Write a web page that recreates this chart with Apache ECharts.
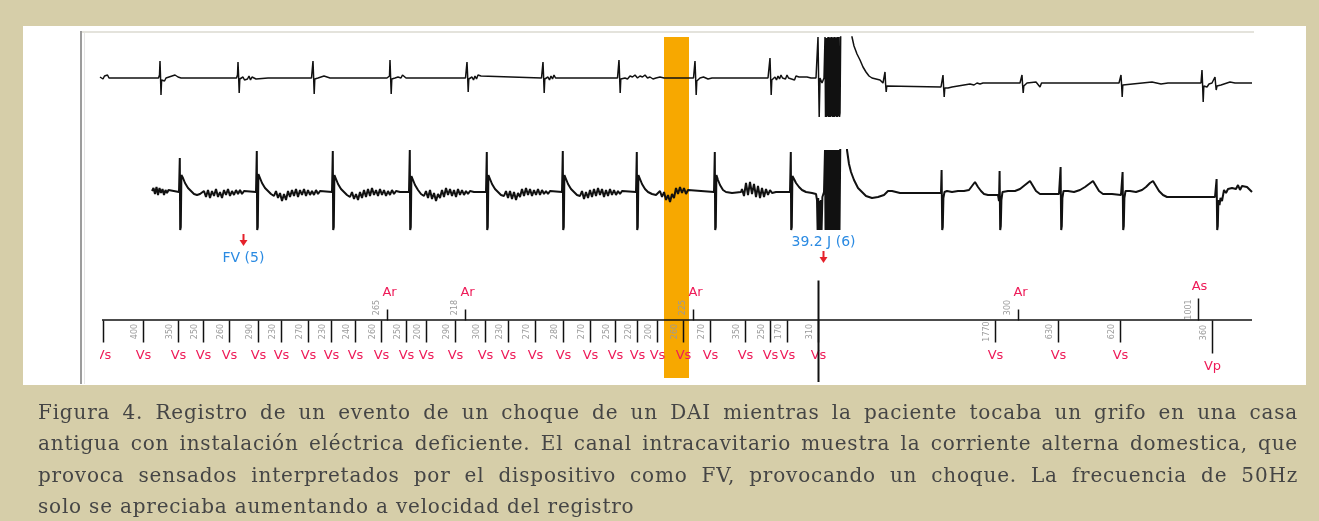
<!DOCTYPE html>
<html><head><meta charset="utf-8">
<script src="https://cdn.jsdelivr.net/npm/echarts/dist/echarts.min.js"></script>
<style>
html,body{margin:0;padding:0;background:#d6cea9;width:1319px;height:521px;overflow:hidden;}
#panel{position:absolute;left:23px;top:26px;width:1283px;height:359px;background:#fff;}
#chart{position:absolute;left:0;top:0;width:1319px;height:521px;}
#caption{position:absolute;left:38px;top:397px;width:1260px;font-family:'DejaVu Serif',serif;font-size:20px;letter-spacing:0.8px;line-height:31.4px;color:#454545;}
#caption div{white-space:nowrap;text-align:justify;text-align-last:justify;}
#caption div.last{text-align-last:left;}
</style></head>
<body>
<div id="panel"></div>
<div id="chart"></div>
<div id="caption">
<div>Figura 4. Registro de un evento de un choque de un DAI mientras la paciente tocaba un grifo en una casa</div>
<div>antigua con instalación eléctrica deficiente. El canal intracavitario muestra la corriente alterna domestica, que</div>
<div>provoca sensados interpretados por el dispositivo como FV, provocando un choque. La frecuencia de 50Hz</div>
<div class="last">solo se apreciaba aumentando a velocidad del registro</div>
</div>
<script>
// ---- data (time in ms, amplitude in mV-like units) ----
const topTrace = [
 [180,0.1],[195,0.3],[210,-0.1],[225,0.2],[240,0.1],[255,0.3],[270,0],[290,0.1],[320,0],
 [765,0],[775,0.3],[780,1.7],[785,0.2],[790,-1.7],[796,-0.2],[810,-0.1],[825,-0.3],[840,0],[855,-0.2],[870,0.1],[885,-0.1],[900,0.2],[915,0],[930,0.3],[945,0.4],[960,0.1],[975,0.2],[990,0],[1010,0.1],[1030,0],
 [1545,0],[1555,0.3],[1560,1.6],[1566,0.2],[1572,-1.5],[1578,-0.1],[1595,-0.2],[1610,0.1],[1625,-0.2],[1640,0],[1655,-0.1],[1670,0.2],[1685,-0.2],[1700,0.1],[1720,0],[1740,-0.1],[1760,0],[1860,0],[1880,0.2],[1895,0],
 [2295,0],[2305,0.2],[2310,1.7],[2316,0.1],[2322,-1.6],[2328,-0.1],[2345,-0.2],[2360,0],[2375,-0.2],[2390,0.1],[2405,-0.1],[2420,0.2],[2435,0.3],[2450,0.1],[2465,0.2],[2480,0],[2500,0],
 [3050,0],[3060,0.1],[3070,0],[3075,0.2],[3080,1.8],[3086,0.1],[3092,-1.6],[3098,-0.1],[3115,-0.3],[3130,0],[3145,-0.2],[3160,0.1],[3175,0.2],[3190,0],[3205,0.3],[3220,0.1],[3240,0],
 [3835,0],[3845,0.2],[3850,1.6],[3856,0.3],[3862,-1.4],[3868,-0.1],[3885,-0.2],[3900,0.1],[3915,-0.2],[3930,0.2],[3945,-0.1],[3960,0.3],[3975,0.1],[3990,0.2],[4010,0],
 [4595,0],[4605,0.2],[4610,1.6],[4616,0.1],[4622,-1.5],[4628,-0.1],[4645,-0.3],[4660,0.1],[4675,-0.2],[4690,0.2],[4705,-0.1],[4720,0.3],[4735,0],[4750,0.2],[4770,0],
 [5355,0],[5365,0.1],[5370,1.8],[5376,0.1],[5382,-1.5],[5388,-0.1],[5405,-0.2],[5430,0],[5455,-0.1],[5480,0.2],[5505,0.1],[5530,0.3],[5555,0],[5580,0.2],[5605,0.1],[5630,0.3],[5655,0],[5680,0.1],[5710,-0.1],[5740,0],[5780,0.1],[5820,0],
 [6115,0],[6125,0.1],[6130,1.7],[6136,0.1],[6142,-1.7],[6148,-0.3],[6165,-0.2],[6180,0],[6195,-0.1],[6215,0.1],[6235,0],[6260,-0.1],[6300,0],
 [6860,0],[6870,0.1],[6880,2.0],[6886,0.1],[6892,-1.7],[6898,-0.2],[6915,-0.3],[6930,0.1],[6945,-0.2],[6960,0.2],[6975,-0.1],[6990,0.3],[7005,0],[7020,0.2],[7035,-0.1],[7050,0.3],[7065,0],[7080,0.2],[7095,-0.1],[7110,0.1],[7125,-0.2],[7140,0.2],[7155,0],[7170,0.1],[7190,0],[7250,0.1],[7290,0],[7340,0],
 [7355,0.2],[7360,4.1],[7366,0],[7372,-3.9],[7380,0],[7400,-0.5],[7420,0],
 [7430,4.1],[7435,-3.9],[7440,4.0],[7445,-3.9],[7450,4.0],[7455,-3.8],[7460,4.1],[7465,-3.9],[7470,4.1],[7475,-3.9],[7480,4.0],[7485,-3.9],[7490,4.1],[7495,-3.8],[7500,4.1],[7505,-3.9],[7510,4.0],[7515,-3.9],[7520,4.1],[7525,-3.9],[7530,4.1],[7535,-3.8],[7540,4.0],[7545,-3.9],[7550,4.1],[7555,-3.9],[7560,4.1],[7565,-3.8],[7570,4.1],[7575,-3.9],[7580,-3.5],[7590,8],[7690,8],
 [7700,4.1],[7720,3.2],[7750,2.4],[7780,1.8],[7810,1.1],[7840,0.6],[7870,0.2],[7900,0],[7940,-0.1],[7980,-0.2],[8010,-0.5],
 [8025,-0.6],[8030,0.6],[8036,-0.6],[8042,-1.4],[8048,-0.8],[8060,-0.9],[8590,-0.9],
 [8600,-0.7],[8610,0.3],[8616,-0.9],[8622,-1.9],[8628,-1.0],[8640,-0.8],[8660,-1.0],[8700,-0.9],[8760,-0.8],[8820,-0.7],[8880,-0.6],[8920,-0.7],[8950,-0.5],[8980,-0.6],[9010,-0.5],[9200,-0.5],
 [9380,-0.5],[9390,-0.3],[9400,0.3],[9406,-0.7],[9412,-1.5],[9418,-0.8],[9430,-0.6],[9450,-0.5],[9540,-0.4],[9560,-0.6],[9580,-0.9],[9595,-0.5],[9610,-0.5],[10370,-0.5],
 [10380,-0.3],[10390,0.3],[10396,-0.7],[10402,-1.9],[10408,-0.7],[10420,-0.5],[10700,-0.4],[10790,-0.6],[10860,-0.5],[11190,-0.5],
 [11200,0.8],[11206,-0.7],[11212,-2.4],[11218,-0.8],[11230,-0.6],[11250,-0.9],[11270,-0.6],[11300,-0.5],[11320,-0.6],[11330,0.1],[11336,-0.6],[11342,-1.2],[11350,-0.8],[11370,-1.0],[11390,-0.7],[11410,-0.5],[11480,-0.4],[11530,-0.5],[11700,-0.5]
];

const bottomTrace = [
 [700,0.1],[715,0.4],[730,-0.2],[745,0.5],[760,-0.3],[775,0.4],[790,-0.1],[805,0.3],[820,-0.3],[835,0.2],[850,-0.1],[865,0.2],[880,0],[970,0],
 [978,3.4],[982,-3.8],[988,-3.5],[994,1.7],[1010,1.4],[1030,0.9],[1060,0.4],[1090,0.1],[1120,-0.2],[1150,-0.3],[1180,-0.2],[1200,-0.4],
 [1220,0.1],[1240,-0.5],[1260,0.2],[1280,-0.6],[1300,0.1],[1320,-0.4],[1340,0.3],[1360,-0.5],[1380,0],[1400,-0.6],[1420,0.2],[1440,-0.3],[1460,0.3],[1480,-0.4],[1500,0.1],[1520,-0.3],[1540,0.2],[1560,-0.2],[1580,0.2],[1600,-0.2],[1620,0.1],[1640,0],[1740,0],
 [1748,4.1],[1752,-3.8],[1758,-3.5],[1764,1.8],[1780,1.4],[1800,0.9],[1830,0.4],[1860,0.1],[1890,-0.2],[1920,-0.4],
 [1940,0.1],[1960,-0.6],[1980,-0.1],[2000,-0.9],[2020,-0.2],[2040,-0.8],[2060,0.1],[2080,-0.5],[2100,0.2],[2120,-0.4],[2140,0.3],[2160,-0.5],[2180,0.2],[2200,-0.3],[2220,0.3],[2240,-0.4],[2260,0.2],[2280,-0.3],[2300,0.1],[2320,-0.3],[2340,0.2],[2360,-0.2],[2380,0.1],[2400,0],[2500,0],
 [2508,4.1],[2512,-3.8],[2518,-3.5],[2524,1.7],[2540,1.3],[2560,0.8],[2590,0.3],[2620,0],[2650,-0.3],[2680,-0.5],
 [2700,0],[2720,-0.7],[2740,-0.2],[2760,-0.8],[2780,0],[2800,-0.6],[2820,0.2],[2840,-0.5],[2860,0.3],[2880,-0.4],[2900,0.4],[2920,-0.3],[2940,0.2],[2960,-0.4],[2980,0.3],[3000,-0.3],[3020,0.2],[3040,-0.4],[3060,0.1],[3080,-0.3],[3100,0.2],[3120,-0.2],[3140,0.1],[3160,-0.1],[3180,0],[3270,0],
 [3278,4.2],[3282,-3.8],[3288,-3.5],[3294,1.6],[3310,1.2],[3330,0.7],[3360,0.2],[3390,-0.2],[3420,-0.4],
 [3440,0.1],[3460,-0.6],[3480,0.2],[3500,-0.7],[3520,-0.1],[3540,-0.9],[3560,-0.2],[3580,-0.6],[3600,0.2],[3620,-0.5],[3640,0.4],[3660,-0.3],[3680,0.3],[3700,-0.4],[3720,0.2],[3740,-0.5],[3760,0.3],[3780,-0.3],[3800,0.2],[3820,-0.3],[3840,0.1],[3860,-0.2],[3880,0.1],[3900,-0.1],[3920,0],[4040,0],
 [4048,4.0],[4052,-3.8],[4058,-3.5],[4064,1.7],[4080,1.3],[4100,0.8],[4130,0.3],[4160,0],[4190,-0.3],[4220,-0.4],
 [4240,0.1],[4260,-0.6],[4280,0.1],[4300,-0.7],[4320,0],[4340,-0.8],[4360,-0.1],[4380,-0.5],[4400,0.3],[4420,-0.4],[4440,0.4],[4460,-0.3],[4480,0.3],[4500,-0.4],[4520,0.2],[4540,-0.3],[4560,0.3],[4580,-0.3],[4600,0.2],[4620,-0.2],[4640,0.1],[4660,-0.2],[4680,0.1],[4700,0],[4800,0],
 [4808,4.1],[4812,-3.8],[4818,-3.5],[4824,1.7],[4840,1.3],[4860,0.8],[4890,0.3],[4920,0],[4950,-0.3],[4980,-0.4],
 [5000,0.1],[5020,-0.7],[5040,0],[5060,-0.6],[5080,0.2],[5100,-0.5],[5120,0.3],[5140,-0.4],[5160,0.4],[5180,-0.3],[5200,0.3],[5220,-0.5],[5240,0.2],[5260,-0.4],[5280,0.3],[5300,-0.3],[5320,0.2],[5340,-0.3],[5360,0.1],[5380,-0.2],[5400,0.1],[5420,0],[5540,0],
 [5548,4.0],[5552,-3.8],[5558,-3.5],[5564,1.7],[5580,1.3],[5600,0.8],[5630,0.3],[5660,0],[5700,-0.2],[5740,-0.3],
 [5780,0.1],[5800,-0.5],[5820,0],[5840,-0.8],[5860,-0.3],[5880,-1.0],[5900,-0.2],[5920,-0.6],[5940,0.4],[5960,-0.2],[5980,0.5],[6000,-0.1],[6020,0.4],[6040,-0.2],[6060,0.2],[6080,0],[6320,0],
 [6328,4.0],[6332,-3.8],[6338,-3.5],[6344,1.7],[6360,1.2],[6380,0.7],[6410,0.2],[6440,0],[6500,-0.1],[6590,0],
 [6600,0.3],[6620,-0.4],[6640,0.9],[6660,-0.3],[6680,1.0],[6700,-0.2],[6720,0.8],[6740,-0.5],[6760,0.6],[6780,-0.6],[6800,0.4],[6820,-0.5],[6840,0.3],[6860,-0.3],[6880,0.2],[6900,-0.1],[6940,0],[7080,0],
 [7088,4.0],[7092,-3.8],[7098,-3.5],[7104,1.6],[7120,1.3],[7140,0.9],[7170,0.5],[7200,0.2],[7240,0],[7300,-0.1],[7340,-0.2],
 [7350,-0.8],[7356,-3.8],[7362,-0.6],[7368,-3.8],[7374,-0.9],[7380,-3.8],[7388,-0.8],[7396,-3.8],[7404,-0.5],[7420,0],
 [7430,4.2],[7435,-3.8],[7440,4.2],[7445,-3.8],[7450,4.2],[7455,-3.8],[7460,4.2],[7465,-3.8],[7470,4.2],[7475,-3.8],[7480,4.2],[7485,-3.8],[7490,4.2],[7495,-3.8],[7500,4.2],[7505,-3.8],[7510,4.2],[7515,-3.8],[7520,4.2],[7525,-3.8],[7530,4.2],[7535,-3.8],[7540,4.2],[7545,-3.8],[7550,4.2],[7555,-3.8],[7560,4.2],[7565,-3.8],[7570,4.2],[7575,-3.8],[7580,-3.8],[7586,8],[7640,8],
 [7650,4.2],[7670,2.8],[7690,2.0],[7720,1.2],[7760,0.4],[7800,0],[7840,-0.4],[7900,-0.6],[7960,-0.5],[8020,-0.3],[8060,0.1],[8080,-0.1],[8100,0.1],[8120,-0.1],[8180,-0.1],[8590,-0.1],
 [8596,2.2],[8602,-3.8],[8608,-3.5],[8614,-0.6],[8625,0],[8650,0.1],[8700,0],[8760,0.1],[8820,0.1],[8870,0.2],[8900,0.6],[8930,1.0],[8960,0.5],[8990,0.1],[9020,-0.2],[9060,-0.3],[9160,-0.3],
 [9170,-0.9],[9176,2.1],[9182,-3.8],[9188,-3.4],[9194,-0.8],[9205,0],[9260,0.1],[9330,0.1],[9380,0.3],[9430,0.7],[9480,1.1],[9510,0.6],[9540,0.1],[9580,-0.2],[9700,-0.2],[9770,-0.2],
 [9780,-0.1],[9786,2.5],[9792,-3.8],[9798,-3.4],[9804,-0.6],[9815,0.1],[9860,0.1],[9920,0],[9980,0.2],[10030,0.5],[10070,0.8],[10110,1.1],[10140,0.6],[10170,0.1],[10210,-0.2],[10300,-0.2],[10390,-0.3],
 [10400,-0.2],[10406,2.0],[10412,-3.8],[10418,-3.4],[10424,-0.6],[10435,0.1],[10480,0.1],[10540,0],[10600,0.2],[10640,0.5],[10680,0.9],[10710,1.1],[10740,0.6],[10770,0.1],[10810,-0.3],[10850,-0.5],[11330,-0.5],
 [11340,-0.5],[11346,1.3],[11352,-3.8],[11358,-3.4],[11364,-0.8],[11375,-1.3],[11385,-0.6],[11400,-0.9],[11420,0.2],[11440,-0.1],[11460,0.3],[11480,0.1],[11500,0.4],[11520,0.5],[11540,0.3],[11560,0.7],[11580,0.2],[11600,0.6],[11620,0.4],[11650,0.5],[11700,0.0]
];

// marker channel events (ms)
const vsTimes = [210,610,960,1210,1470,1760,1990,2260,2490,2730,2990,3240,3440,3730,4030,4260,4530,4810,5080,5330,5550,5750,6010,6280,6630,6880,7050,7360,9130,9760,10380];
const vsIntervals = ['','400','350','250','260','290','230','270','230','240','260','250','200','290','300','230','270','280','270','250','220','200','260','270','350','250','170','310','1770','630','620'];
const arTimes = [3050,3830,6110,9360];
const arIntervals = ['265','218','225','300'];
const asTimes = [11160];
const asIntervals = ['1001'];
const vpTimes = [11300];
const vpIntervals = ['360'];
const shockTimes = [7360];
const annotTimes = [1610, 7410];
const annotTexts = ['FV (5)', '39.2 J (6)'];
const annotPlaces = ['below', 'above'];
const markerSpan = [200, 11700];
const bandRange = [5820, 6070];

// ---- build ----
const markers = [];
vsTimes.forEach((t,i)=>markers.push({t, kind:'Vs', num:vsIntervals[i]}));
arTimes.forEach((t,i)=>markers.push({t, kind:'Ar', num:arIntervals[i]}));
asTimes.forEach((t,i)=>markers.push({t, kind:'As', num:asIntervals[i]}));
vpTimes.forEach((t,i)=>markers.push({t, kind:'Vp', num:vpIntervals[i]}));
shockTimes.forEach(t=>markers.push({t, kind:'shock', num:''}));

const MS = {
  Vs:{tick:22, ndx:-9, ndy:11, ldx:0, ldy:35},
  Vp:{tick:33, ndx:-9, ndy:12, ldx:0, ldy:46},
  Ar:{tick:-11, ndx:-11, ndy:-13, ldx:2, ldy:-28},
  As:{tick:-22, ndx:-10, ndy:-11, ldx:1, ldy:-34}
};
const RED = '#ee1b58';
const FONT = '"DejaVu Sans", sans-serif';

function renderMarker(params, api){
  const m = markers[params.dataIndex];
  const p = api.coord([m.t, 0]);
  const x = Math.round(p[0]) + 0.5, y = Math.round(p[1]) + 0.5;
  if (m.kind === 'shock') {
    return {type:'line', shape:{x1:x, y1:y-40, x2:x, y2:y+64}, style:{stroke:'#111', lineWidth:2}};
  }
  const s = MS[m.kind];
  const ch = [{type:'line', shape:{x1:x, y1:y, x2:x, y2:y+s.tick}, style:{stroke:'#111', lineWidth:1.5}}];
  if (m.num) ch.push({type:'text', x:x+s.ndx, y:y+s.ndy, rotation:Math.PI/2,
     style:{text:m.num, fill:'#9a9a9a', font:'8px '+FONT, align:'center', verticalAlign:'middle'}});
  ch.push({type:'text', x:x+s.ldx, y:y+s.ldy,
     style:{text:m.kind, fill:RED, font:'13px '+FONT, align:'center', verticalAlign:'middle'}});
  return {type:'group', children:ch};
}

const AS = { below:{top:-86, tip:-74, ty:-62}, above:{top:-69, tip:-57, ty:-78} };
function renderAnno(params, api){
  const i = params.dataIndex;
  const p = api.coord([annotTimes[i], 0]);
  const x = Math.round(p[0]) + 0.5, y = Math.round(p[1]);
  const s = AS[annotPlaces[i]];
  return {type:'group', children:[
    {type:'line', shape:{x1:x, y1:y+s.top, x2:x, y2:y+s.tip-5}, style:{stroke:'#e5212b', lineWidth:2}},
    {type:'polygon', shape:{points:[[x-4,y+s.tip-6],[x+4,y+s.tip-6],[x,y+s.tip]]}, style:{fill:'#e5212b'}},
    {type:'text', x:x, y:y+s.ty, style:{text:annotTexts[i], fill:'#2a8ae2', font:'14px '+FONT, align:'center', verticalAlign:'middle'}}
  ]};
}

function renderBand(params, api){
  const a = api.coord([api.value(0), 0]);
  const b = api.coord([api.value(1), 0]);
  const cs = params.coordSys;
  return {type:'rect', shape:{x:a[0], y:cs.y, width:b[0]-a[0], height:cs.height}, style:{fill:'#f7a800'}};
}

const chart = echarts.init(document.getElementById('chart'), null, {renderer:'canvas'});
chart.setOption({
  animation:false,
  backgroundColor:'transparent',
  graphic:[
    {type:'line', shape:{x1:81, y1:31, x2:81, y2:384}, style:{stroke:'#9c9c9c', lineWidth:2}, z:0},
    {type:'line', shape:{x1:84.5, y1:33, x2:84.5, y2:384}, style:{stroke:'#e6e6e6', lineWidth:1}, z:0},
    {type:'line', shape:{x1:82, y1:32, x2:1254, y2:32}, style:{stroke:'#e4e3dc', lineWidth:2}, z:0}
  ],
  grid:[
    {left:82, width:1172, top:37, height:94},
    {left:82, width:1172, top:150, height:91},
    {left:100, width:1154, top:241, height:141},
    {left:82, width:1172, top:37, height:341}
  ],
  xAxis:[0,1,2,3].map(i=>({type:'value', gridIndex:i, min:i===2?180:0, max:11720, show:false})),
  yAxis:[
    {type:'value', gridIndex:0, min:-5.3, max:4.1, show:false},
    {type:'value', gridIndex:1, min:-4.9, max:4.2, show:false},
    {type:'value', gridIndex:2, min:-6.2, max:7.9, show:false},
    {type:'value', gridIndex:3, min:0, max:1, show:false}
  ],
  series:[
    {type:'custom', xAxisIndex:3, yAxisIndex:3, data:[bandRange], encode:{x:[0,1]}, renderItem:renderBand, z:1, silent:true},
    {type:'line', xAxisIndex:0, yAxisIndex:0, data:topTrace, symbol:'none', showSymbol:false, clip:true,
     lineStyle:{color:'#111', width:1.5}, z:3, silent:true},
    {type:'line', xAxisIndex:1, yAxisIndex:1, data:bottomTrace, symbol:'none', showSymbol:false, clip:true,
     lineStyle:{color:'#111', width:2}, z:3, silent:true},
    {type:'line', xAxisIndex:2, yAxisIndex:2, data:[[markerSpan[0],0],[markerSpan[1],0]], symbol:'none', showSymbol:false,
     lineStyle:{color:'#111', width:1.5}, z:4, silent:true},
    {type:'custom', xAxisIndex:2, yAxisIndex:2, data:markers.map(m=>[m.t,0]), encode:{x:0,y:1}, renderItem:renderMarker, clip:true, z:5, silent:true},
    {type:'custom', xAxisIndex:2, yAxisIndex:2, data:annotTimes.map(t=>[t,0]), encode:{x:0,y:1}, renderItem:renderAnno, clip:false, z:5, silent:true}
  ]
});
</script>
</body></html>
